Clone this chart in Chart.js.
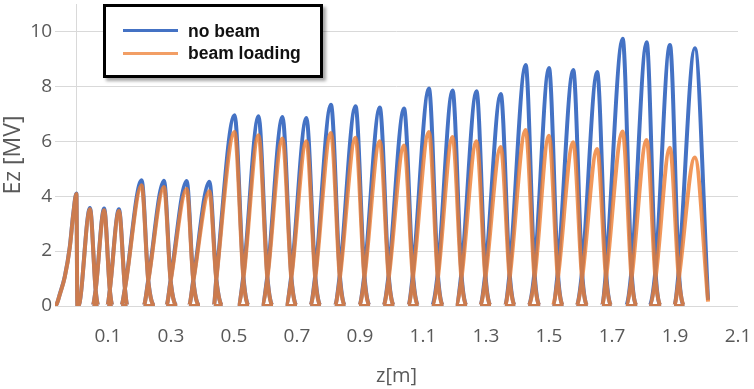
<!DOCTYPE html>
<html>
<head>
<meta charset="utf-8">
<script src="https://cdn.jsdelivr.net/npm/chart.js@4.4.1/dist/chart.umd.min.js"></script>
<style>
  html, body { margin: 0; padding: 0; background: #ffffff; }
  #wrap { position: relative; width: 754px; height: 389px; }
  #legend {
    position: absolute; left: 103px; top: 4px; width: 214px; height: 68px;
    border: 3px solid #000; background: #fff;
    box-shadow: 3px 3px 3px rgba(0,0,0,0.35);
    font-family: "Liberation Sans", Arial, sans-serif; font-weight: bold;
    font-size: 17.5px; color: #111; line-height: 20px;
  }
  .sw { position: absolute; left: 17px; width: 55px; height: 3px; }
  .lt { position: absolute; left: 82px; white-space: nowrap; }
</style>
</head>
<body>
<div id="wrap">
  <canvas id="c" width="754" height="389"></canvas>
  <div id="legend">
    <div class="sw" style="top:21.5px;background:#4472C4;"></div>
    <div class="lt" style="top:14px;">no beam</div>
    <div class="sw" style="top:45px;background:rgba(237,125,49,0.75);"></div>
    <div class="lt" style="top:36px;">beam loading</div>
  </div>
</div>
<script>
// ---- data ----
// z position (m) of each cell's field peak
const zPeak = [0.000, 0.043, 0.088, 0.135, 0.207, 0.278, 0.350, 0.422,
               0.502, 0.578, 0.654, 0.730, 0.808, 0.886, 0.963, 1.040,
               1.119, 1.194, 1.270, 1.347, 1.426, 1.500, 1.577, 1.653,
               1.734, 1.810, 1.884, 1.963];
// z where each cell's field leaves zero / returns to zero
const zStart = [-0.075, 0.006, 0.051, 0.098, 0.142, 0.213, 0.285, 0.357,
                0.436, 0.512, 0.588, 0.664, 0.742, 0.820, 0.897, 0.974,
                1.053, 1.128, 1.204, 1.281, 1.360, 1.434, 1.511, 1.587,
                1.668, 1.744, 1.818, 1.897];
const zEnd   = [0.003, 0.070, 0.115, 0.162, 0.249, 0.320, 0.392, 0.464,
                0.548, 0.624, 0.700, 0.776, 0.854, 0.932, 1.009, 1.086,
                1.165, 1.240, 1.316, 1.393, 1.472, 1.546, 1.623, 1.699,
                1.780, 1.856, 1.930, 2.005];
// peak Ez (MV) per cell
const noBeam      = [4.10, 3.57, 3.55, 3.52, 4.58, 4.56, 4.55, 4.53,
                     6.95, 6.91, 6.88, 6.85, 7.33, 7.28, 7.23, 7.19,
                     7.92, 7.85, 7.82, 7.72, 8.78, 8.67, 8.60, 8.52,
                     9.73, 9.61, 9.51, 9.39];
const beamLoading = [4.08, 3.52, 3.49, 3.46, 4.40, 4.33, 4.26, 4.18,
                     6.34, 6.22, 6.10, 6.00, 6.30, 6.13, 6.00, 5.85,
                     6.34, 6.16, 6.00, 5.79, 6.41, 6.20, 5.96, 5.72,
                     6.36, 6.05, 5.76, 5.41];
// crossing point (apex of the small triangles) between cell j and cell j+1
const zValley = [null, 0.061, 0.106, 0.154, 0.228, 0.299, 0.371, 0.444,
                 0.530, 0.606, 0.682, 0.758, 0.836, 0.914, 0.991, 1.068,
                 1.147, 1.222, 1.298, 1.375, 1.454, 1.528, 1.605, 1.681,
                 1.762, 1.838, 1.912];
const valleyNoBeam = [null, 0.60, 0.60, 0.65, 0.95, 0.95, 0.95, 1.00,
                      1.10, 1.10, 1.10, 1.12, 1.15, 1.15, 1.15, 1.18,
                      1.20, 1.20, 1.20, 1.22, 1.25, 1.25, 1.25, 1.28,
                      1.30, 1.30, 1.30];
const valleyBeamLoading = [null, 0.58, 0.58, 0.63, 0.90, 0.90, 0.90, 0.95,
                           1.00, 1.00, 1.00, 1.00, 1.00, 1.00, 1.00, 1.00,
                           1.00, 1.00, 1.00, 1.00, 1.00, 1.00, 1.00, 1.00,
                           1.00, 1.00, 1.00];
// gradual rise of the first (end) cell
const firstRiseZ = [-0.064, -0.052, -0.037, -0.021, -0.010];
const firstRiseNoBeam = [0.05, 0.46, 1.07, 2.16, 3.37];
const firstRiseBeamLoading = [0.05, 0.45, 1.05, 2.13, 3.33];
// value where the trace stops at the exit
const lastNoBeam = 0.22;
const lastBeamLoading = 0.16;
// axis ticks
const xTickLabels = [0.1, 0.3, 0.5, 0.7, 0.9, 1.1, 1.3, 1.5, 1.7, 1.9, 2.1];
const yTicks = [0, 2, 4, 6, 8, 10];

function buildSeries(peaks, valleys, riseVals, lastVal) {
  const pts = [];
  const n = zPeak.length;
  for (let i = 0; i < n; i++) {
    pts.push({ x: zStart[i], y: 0 });
    if (i === 0) {
      firstRiseZ.forEach((z, j) => pts.push({ x: z, y: riseVals[j] }));
    } else if (zValley[i - 1] != null) {
      pts.push({ x: zValley[i - 1], y: valleys[i - 1] });
    }
    pts.push({ x: zPeak[i], y: peaks[i] });
    if (i < n - 1) {
      if (zValley[i] != null) pts.push({ x: zValley[i], y: valleys[i] });
      pts.push({ x: zEnd[i], y: 0 });
    } else {
      pts.push({ x: zEnd[i], y: lastVal });
    }
  }
  return pts;
}

const tickFont = { family: "'Open Sans', sans-serif", size: 19 };

new Chart(document.getElementById('c'), {
  type: 'line',
  data: {
    datasets: [
      {
        label: 'beam loading',
        data: buildSeries(beamLoading, valleyBeamLoading, firstRiseBeamLoading, lastBeamLoading),
        borderColor: 'rgba(237,125,49,0.8)',
        borderWidth: 4,
        pointRadius: 0,
        cubicInterpolationMode: 'monotone',
        order: 0
      },
      {
        label: 'no beam',
        data: buildSeries(noBeam, valleyNoBeam, firstRiseNoBeam, lastNoBeam),
        borderColor: '#4472C4',
        borderWidth: 4,
        pointRadius: 0,
        cubicInterpolationMode: 'monotone',
        order: 1
      }
    ]
  },
  options: {
    responsive: false,
    animation: false,
    devicePixelRatio: 1,
    layout: { padding: { left: 0, right: 16, top: 4, bottom: 0 } },
    plugins: { legend: { display: false }, tooltip: { enabled: false } },
    scales: {
      x: {
        type: 'linear',
        min: -0.068,
        max: 2.1,
        afterBuildTicks: (s) => { s.ticks = [0].concat(xTickLabels).map(v => ({ value: v })); },
        afterFit: (s) => { s.height = 83; s.paddingLeft = 0; s.paddingRight = 0; },
        ticks: {
          autoSkip: false, maxRotation: 0, minRotation: 0, padding: 19,
          color: '#595959', font: tickFont,
          callback: (v) => (v === 0 ? '' : Number(v).toFixed(1))
        },
        grid: {
          drawTicks: false,
          color: (ctx) => (ctx.tick && ctx.tick.value === 0 ? '#d9d9d9' : 'rgba(0,0,0,0)'),
          lineWidth: 1
        },
        border: { display: false },
        title: {
          display: true, text: 'z[m]', color: '#595959',
          font: { family: "'Open Sans', sans-serif", size: 20 },
          padding: { top: 0, bottom: 1 }
        }
      },
      y: {
        min: 0,
        max: 11,
        afterBuildTicks: (s) => { s.ticks = yTicks.map(v => ({ value: v })); },
        afterFit: (s) => { s.width = 55; s.paddingTop = 0; s.paddingBottom = 0; },
        ticks: { padding: 3, color: '#595959', font: tickFont },
        grid: { drawTicks: false, color: '#d9d9d9', lineWidth: 1 },
        border: { display: false },
        title: {
          display: true, text: 'Ez [MV]', color: '#595959',
          font: { family: "'Open Sans', sans-serif", size: 23 },
          padding: { top: 0, bottom: 0 }
        }
      }
    }
  }
});
</script>
</body>
</html>
